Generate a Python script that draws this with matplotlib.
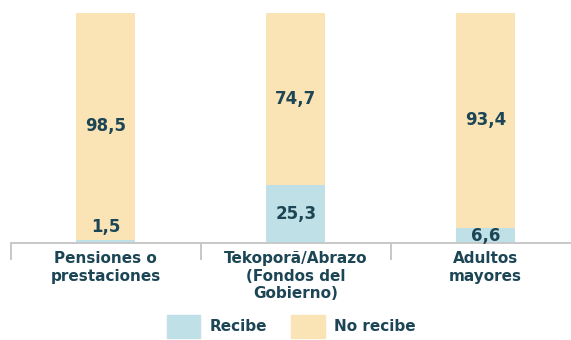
import matplotlib.pyplot as plt
import numpy as np
from matplotlib.patches import Patch

categorias = ["Pensiones o\nprestaciones", "Tekoporã/Abrazo\n(Fondos del\nGobierno)", "Adultos\nmayores"]
recibe = [1.5, 25.3, 6.6]
no_recibe = [98.5, 74.7, 93.4]

azul = "#bfe0e6"
amarillo = "#fae3b4"
texto = "#1c4555"

plt.rcParams['font.family'] = ['DejaVu Sans']

fig = plt.figure(figsize=(5.71, 3.4), dpi=100)
ax = fig.add_axes([0.019, 0.285, 0.998, 0.677])

x = np.arange(len(categorias))
ancho = 0.31
ax.bar(x, recibe, ancho, color=azul, label="Recibe")
ax.bar(x, no_recibe, ancho, bottom=recibe, color=amarillo, label="No recibe")

def fmt(v):
    return f"{v:.1f}".replace(".", ",")

for i in range(len(categorias)):
    # tiny segments get their label just above the bar
    y_r = recibe[i] / 2 if recibe[i] > 5 else recibe[i] + 5.5
    ax.text(x[i], y_r, fmt(recibe[i]), ha="center", va="center",
            fontsize=12, fontweight="bold", color=texto)
    ax.text(x[i], recibe[i] + no_recibe[i] / 2, fmt(no_recibe[i]), ha="center", va="center",
            fontsize=12, fontweight="bold", color=texto)

ax.set_xlim(-0.5, 2.5)
ax.set_ylim(0, 100)
for s in ["top", "right", "left"]:
    ax.spines[s].set_visible(False)
ax.spines["bottom"].set_color("#c8c8c8")
ax.spines["bottom"].set_linewidth(1.4)
ax.set_yticks([])

# separators between categories
ax.set_xticks(x)
ax.set_xticklabels(categorias, fontsize=11, fontweight="bold", color=texto, linespacing=1.2)
ax.tick_params(axis="x", length=0, pad=6)
for b in [-0.5, 0.5, 1.5]:
    ax.plot([b, b], [0, -7], color="#c8c8c8", lw=1.4, clip_on=False)

handles = [Patch(color=azul), Patch(color=amarillo)]
leg = fig.legend(handles, ["Recibe", "No recibe"], loc="center", bbox_to_anchor=(0.51, 0.04),
                 ncol=2, frameon=False, handlelength=2.2, handleheight=1.9,
                 columnspacing=1.6, handletextpad=0.6,
                 prop={"weight": "bold", "size": 11})
for t in leg.get_texts():
    t.set_color(texto)

fig.savefig("out.png", dpi=100)
